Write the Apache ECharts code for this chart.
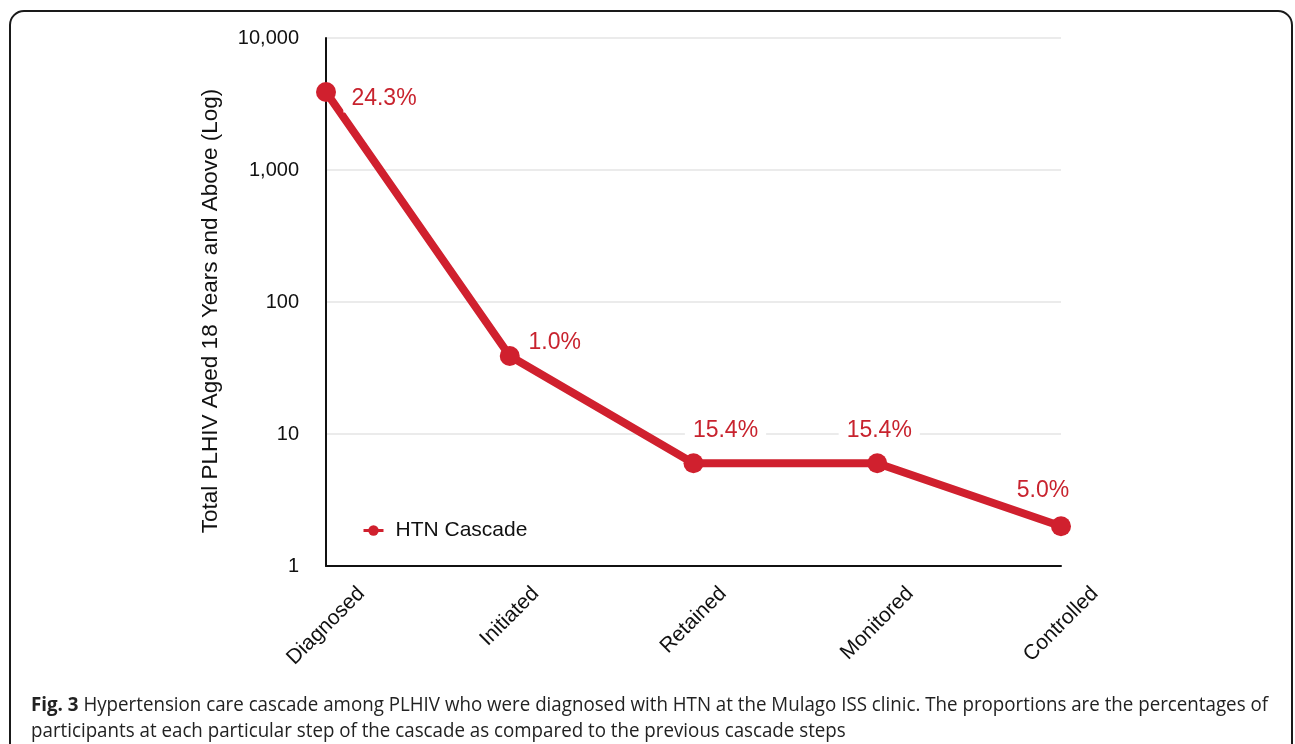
<!DOCTYPE html>
<html>
<head>
<meta charset="utf-8">
<title>HTN care cascade</title>
<script src="https://cdn.jsdelivr.net/npm/echarts@6/dist/echarts.min.js"></script>
<style>
  html, body { margin: 0; padding: 0; background: #fff; }
  #chart { width: 1295px; height: 744px; }
</style>
</head>
<body>
<div id="chart"></div>
<script>
// Cascade steps and counts of PLHIV at each step (log scale)
const categories = ['Diagnosed', 'Initiated', 'Retained', 'Monitored', 'Controlled'];
const counts = [3900, 39, 6, 6, 2];
const percentLabels = ['24.3%', '1.0%', '15.4%', '15.4%', '5.0%'];
const yTicks = [1, 10, 100, 1000, 10000];

// Where each percentage label sits relative to its marker (px)
const labelOffsets = [[58, 7], [45, -13], [32, -33], [2, -33], [-18, -36]];

const captionBold = 'Fig. 3';
const captionLine1 = ' Hypertension care cascade among PLHIV who were diagnosed with HTN at the Mulago ISS clinic. The proportions are the percentages of';
const captionLine2 = 'participants at each particular step of the cascade as compared to the previous cascade steps';

const RED = '#d0202e';
const LABEL_RED = '#c8232e';
const INK = '#111111';
const SANS = '"Liberation Sans", Arial, Helvetica, sans-serif';
const CAPTION_FONT = '"Open Sans", "Noto Sans", sans-serif';

const ctx = document.createElement('canvas').getContext('2d');
function textWidth(str, font) { ctx.font = font; return ctx.measureText(str).width; }

// Category labels are turned 45 degrees; each one is centred under its
// tick and hung so the top of its rotated box sits a fixed gap below the axis.
const xLabelSize = 21;
const xLabelGap = 17;
function categoryLabel(params, api) {
  const i = api.value(0);
  const name = categories[i];
  const base = api.coord([i, yTicks[0]]);
  const w = textWidth(name, xLabelSize + 'px ' + SANS);
  const drop = (w + xLabelSize) * Math.SQRT1_2 / 2;
  return {
    type: 'text',
    x: base[0],
    y: base[1] + xLabelGap + drop,
    rotation: Math.PI / 4,
    silent: true,
    style: {
      text: name,
      fontSize: xLabelSize,
      fontFamily: SANS,
      fill: INK,
      align: 'center',
      verticalAlign: 'middle'
    }
  };
}

// Caption squeezed horizontally to the frame width
const capSize = 20;
const capWidth = textWidth(captionBold, 'bold ' + capSize + 'px ' + CAPTION_FONT) +
                 textWidth(captionLine1, capSize + 'px ' + CAPTION_FONT);
const capLeft = 31, capRight = 1268;
const capScale = (capRight - capLeft) / capWidth;

const chart = echarts.init(document.getElementById('chart'), null, { renderer: 'canvas' });

chart.setOption({
  backgroundColor: '#ffffff',
  animation: false,
  textStyle: { fontFamily: SANS },
  grid: {
    left: 326, right: 234, top: 38, bottom: 178,
    containLabel: false, outerBoundsMode: 'none'
  },
  legend: {
    left: 357, top: 515,
    itemWidth: 20, itemHeight: 13,
    itemGap: 10,
    lineStyle: { width: 3 },
    textStyle: { fontSize: 21, color: INK, padding: [0, 0, 0, 7], fontFamily: SANS },
    data: ['HTN Cascade']
  },
  xAxis: {
    type: 'category',
    data: categories,
    boundaryGap: false,
    axisLine: { show: true, lineStyle: { color: INK, width: 2 } },
    axisTick: { show: false },
    splitLine: { show: false },
    axisLabel: { show: false }
  },
  yAxis: {
    type: 'log', logBase: 10, min: yTicks[0], max: yTicks[yTicks.length - 1],
    name: 'Total PLHIV Aged 18 Years and Above (Log)',
    nameLocation: 'middle', nameGap: 104,
    nameTextStyle: { fontSize: 22.5, color: INK, fontFamily: SANS, padding: [0, 18, 0, 0] },
    axisLine: { show: true, lineStyle: { color: INK, width: 2 } },
    axisTick: { show: false },
    minorTick: { show: false },
    splitLine: { show: true, lineStyle: { color: '#e4e4e4', width: 1.5 } },
    axisLabel: {
      fontSize: 20, color: INK, margin: 27, fontFamily: SANS,
      padding: [5, 0, 0, 0],
      formatter: function (v) { return Math.round(v).toLocaleString('en-US'); }
    }
  },
  series: [
    {
      name: 'HTN Cascade',
      type: 'line',
      data: counts.map(function (v, i) {
        return { value: v, label: { offset: labelOffsets[i] } };
      }),
      symbol: 'circle',
      symbolSize: 20,
      lineStyle: { color: RED, width: 8 },
      itemStyle: { color: RED },
      label: {
        show: true,
        position: 'inside',
        fontSize: 23,
        color: LABEL_RED,
        fontFamily: SANS,
        backgroundColor: '#ffffff',
        padding: [2, 8],
        formatter: function (p) { return percentLabels[p.dataIndex]; }
      },
      z: 3
    },
    {
      name: 'category labels',
      type: 'custom',
      data: categories.map(function (c, i) { return [i]; }),
      encode: { x: 0 },
      clip: false,
      silent: true,
      renderItem: categoryLabel,
      z: 4
    }
  ],
  graphic: [
    {
      type: 'rect', silent: true, z: 10,
      shape: { x: 10, y: 11, width: 1282, height: 780, r: 14 },
      style: { fill: 'none', stroke: '#1a1a1a', lineWidth: 2 }
    },
    {
      type: 'text', silent: true, z: 10,
      x: capLeft, y: 692,
      scaleX: capScale, scaleY: 1,
      style: {
        text: '{b|' + captionBold + '}' + captionLine1 + '\n' + captionLine2,
        fontSize: capSize, fontFamily: CAPTION_FONT, fill: '#222',
        lineHeight: 26,
        rich: {
          b: { fontWeight: 'bold', fontSize: capSize, fontFamily: CAPTION_FONT, fill: '#222' }
        }
      }
    }
  ]
});
</script>
</body>
</html>
